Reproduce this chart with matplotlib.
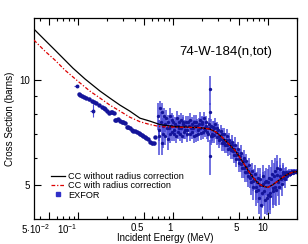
import numpy as np
import matplotlib
matplotlib.use("Agg")
from matplotlib import pyplot as plt
from matplotlib.ticker import FixedLocator, NullFormatter

plt.rcParams['font.family'] = ['Liberation Sans', 'DejaVu Sans']
plt.rcParams['mathtext.fontset'] = 'custom'
plt.rcParams['mathtext.rm'] = 'Liberation Sans'
plt.rcParams['mathtext.it'] = 'Liberation Sans:italic'

# CC without radius correction (black)
cc_e = [0.0344, 0.0449, 0.0573, 0.0730, 0.0886, 0.119, 0.171, 0.217, 0.277, 0.352,
        0.450, 0.573, 0.730, 1.05, 1.51, 1.92, 2.45, 2.84, 3.28, 3.79, 4.49, 5.20,
        6.16, 6.95, 7.85, 8.86, 10.0, 11.29, 12.7, 14.38, 16.2, 18.3, 20.2]
cc_s = [14.0, 13.02, 12.19, 11.41, 10.82, 10.07, 9.30, 8.88, 8.48, 8.15,
        7.78, 7.63, 7.46, 7.36, 7.33, 7.31, 7.24, 7.10, 6.87, 6.60, 6.30, 5.94,
        5.52, 5.27, 5.07, 4.97, 4.93, 5.02, 5.14, 5.27, 5.38, 5.45, 5.47]

# CC with radius correction (red)
ccr_e = [0.0344, 0.0449, 0.0573, 0.0730, 0.1025, 0.1337, 0.171, 0.217, 0.277, 0.352,
         0.450, 0.573, 0.730, 1.05, 1.51, 1.92, 2.45, 2.84, 3.28, 3.79, 4.49, 5.20,
         6.16, 6.95, 7.85, 8.86, 10.0, 11.29, 12.7, 14.38, 16.2, 18.3, 20.2]
ccr_s = [13.02, 12.11, 11.41, 10.68, 9.87, 9.30, 8.88, 8.48, 8.15, 7.83,
         7.60, 7.46, 7.36, 7.33, 7.32, 7.31, 7.24, 7.10, 6.87, 6.60, 6.30, 5.94,
         5.52, 5.27, 5.07, 4.97, 4.93, 5.02, 5.14, 5.27, 5.38, 5.45, 5.47]

# EXFOR, low energy set
lo_e = [0.1017, 0.1060, 0.1102, 0.1160, 0.1214, 0.1300, 0.1404, 0.1480, 0.1546, 0.1664,
        0.1790, 0.1860, 0.1924, 0.2010, 0.2105, 0.2225, 0.2300, 0.2375, 0.2452, 0.2540,
        0.2636, 0.2770, 0.2904, 0.3010, 0.3126, 0.3281, 0.3400, 0.3526, 0.3701, 0.3840,
        0.398, 0.417, 0.4355, 0.453, 0.472, 0.4900, 0.5075, 0.5270, 0.5455, 0.573,
        0.601, 0.6265, 0.647]
lo_s = [9.12, 9.06, 9.00, 8.94, 8.88, 8.80, 8.72, 8.64, 8.59, 8.48,
        8.38, 8.34, 8.26, 8.15, 8.04, 8.10, 8.08, 8.04, 7.68, 7.70,
        7.73, 7.66, 7.60, 7.57, 7.55, 7.35, 7.32, 7.29, 7.19, 7.16,
        7.14, 7.10, 7.05, 7.00, 6.96, 6.92, 6.87, 6.82, 6.78, 6.66,
        6.60, 6.60, 6.87]
lo_err = [0.06] * len(lo_e)

# EXFOR, isolated points
iso_e = [0.0976, 0.143]
iso_s = [9.61, 8.17]
iso_xerr = [[0.0074, 0.0], [0.0082, 0.0]]
iso_yerr = [0.0, 0.35]

# EXFOR, dense set 0.7 - 20 MeV
hi_e = [0.70, 0.72, 0.745, 0.77, 0.795, 0.82, 0.85, 0.88, 0.91, 0.94, 0.97,
        1.0, 1.03, 1.065, 1.10, 1.135, 1.17, 1.21, 1.25, 1.29, 1.33, 1.37, 1.42, 1.47,
        1.52, 1.57, 1.62, 1.67, 1.73, 1.79, 1.85, 1.91, 1.97, 2.04, 2.11, 2.18, 2.25, 2.33,
        2.40, 2.43, 2.45, 2.47, 2.49,
        2.52, 2.61, 2.70, 2.79, 2.89, 2.99, 3.09, 3.20, 3.31, 3.43, 3.55, 3.67, 3.80,
        3.93, 4.07, 4.21, 4.36, 4.51, 4.67, 4.83, 5.00, 5.17, 5.35, 5.54, 5.73, 5.93,
        6.14, 6.35, 6.57, 6.80, 7.04, 7.29, 7.54, 7.80, 8.07, 8.35, 8.64, 8.95, 9.26,
        9.58, 9.92, 10.27, 10.6, 11.0, 11.4, 11.8, 12.2, 12.6, 13.0, 13.5, 14.0, 14.5,
        15.0, 15.5, 16.0, 16.6, 17.2, 17.8, 18.4, 19.0, 19.6, 20.0]
hi_s = [7.9, 6.9, 7.6, 8.1, 7.0, 7.5, 7.8, 6.8, 7.3, 7.9, 7.1,
        7.6, 7.0, 7.4, 7.8, 7.1, 7.3, 7.7, 6.9, 7.5, 7.2, 7.6, 7.0, 7.4,
        7.7, 7.1, 7.3, 7.6, 6.95, 7.4, 7.2, 7.7, 7.05, 7.5, 7.8, 7.2, 7.4, 7.0,
        7.5, 8.1, 9.4, 6.05, 6.9,
        7.4, 6.9, 7.3, 7.5, 6.85, 7.2, 6.75, 7.15, 6.6, 7.0, 6.5, 6.9, 6.35,
        6.75, 6.3, 6.65, 6.1, 6.5, 5.95, 6.35, 5.8, 6.2, 5.6, 6.0, 5.45, 5.85,
        5.3, 5.7, 5.1, 5.5, 4.95, 5.4, 4.8, 5.25, 4.6, 5.2, 4.75, 5.3, 4.55,
        5.15, 4.7, 5.25, 4.65, 5.4, 4.8, 5.5, 4.85, 5.6, 4.95, 5.55, 5.05, 5.45,
        5.2, 5.45, 5.3, 5.45, 5.38, 5.48, 5.42, 5.5, 5.45, 5.48]
hi_err = [0.7, 0.8, 0.5, 0.5, 0.6, 0.4, 0.4, 0.5, 0.5, 0.4, 0.4,
          0.35, 0.3, 0.4, 0.35, 0.3, 0.4, 0.35, 0.3, 0.35, 0.4, 0.3, 0.35, 0.3,
          0.35, 0.3, 0.4, 0.35, 0.3, 0.35, 0.3, 0.4, 0.3, 0.35, 0.3, 0.35, 0.3, 0.35,
          0.3, 0.5, 0.9, 0.7, 0.4,
          0.35, 0.3, 0.35, 0.3, 0.35, 0.3, 0.35, 0.3, 0.35, 0.3, 0.3, 0.35, 0.3,
          0.3, 0.35, 0.3, 0.3, 0.35, 0.3, 0.3, 0.35, 0.3, 0.35, 0.3, 0.35, 0.3,
          0.35, 0.3, 0.4, 0.3, 0.4, 0.3, 0.45, 0.35, 0.45, 0.4, 0.45, 0.4, 0.4,
          0.45, 0.5, 0.45, 0.5, 0.5, 0.5, 0.5, 0.5, 0.5, 0.55, 0.45, 0.4, 0.35,
          0.3, 0.2, 0.15, 0.1, 0.1, 0.1, 0.08, 0.08, 0.08, 0.08]

# EXFOR, second dense set (fills between the first)
hi2_e = [0.71, 0.735, 0.76, 0.785, 0.81, 0.835, 0.865, 0.895, 0.925, 0.955, 0.985,
         1.015, 1.05, 1.08, 1.12, 1.15, 1.19, 1.23, 1.27, 1.31, 1.35, 1.40, 1.45, 1.50,
         1.55, 1.60, 1.65, 1.70, 1.76, 1.82, 1.88, 1.94, 2.00, 2.08, 2.15, 2.22, 2.29, 2.37,
         2.56, 2.65, 2.74, 2.84, 2.94, 3.04, 3.15, 3.25, 3.37, 3.49, 3.61, 3.73, 3.86,
         4.00, 4.14, 4.28, 4.43, 4.59, 4.75, 4.91, 5.08, 5.26, 5.44, 5.63, 5.83, 6.03,
         6.24, 6.46, 6.68, 6.92, 7.16, 7.41, 7.67, 7.93, 8.21, 8.50, 8.80, 9.10, 9.42,
         9.75, 10.1, 10.45, 10.8, 11.2, 11.6, 12.0, 12.4, 12.8, 13.25, 13.75, 14.25, 14.75,
         15.25, 15.75, 16.3, 16.9, 17.5, 18.1, 18.7, 19.3, 19.8]
hi2_s = [7.2, 8.3, 6.6, 7.4, 7.9, 6.9, 7.3, 7.6, 7.0, 7.4, 7.7,
         7.2, 7.5, 6.9, 7.4, 7.6, 7.0, 7.3, 7.6, 7.1, 7.4, 7.2, 7.6, 7.0,
         7.3, 7.5, 6.9, 7.4, 7.6, 7.0, 7.5, 7.3, 7.6, 7.1, 7.3, 7.6, 7.1, 7.3,
         7.0, 7.35, 6.95, 7.1, 7.3, 6.9, 6.8, 7.0, 6.75, 6.6, 6.75, 6.5, 6.6,
         6.4, 6.5, 6.25, 6.35, 6.1, 6.2, 5.95, 6.05, 5.75, 5.85, 5.6, 5.65, 5.45,
         5.5, 5.25, 5.35, 5.15, 5.2, 4.95, 5.1, 4.85, 5.0, 4.4, 5.05, 4.8, 5.1,
         4.6, 5.1, 4.75, 5.2, 4.9, 5.3, 4.95, 5.35, 5.1, 5.3, 5.2, 5.4, 5.25,
         5.4, 5.35, 5.42, 5.4, 5.45, 5.44, 5.47, 5.46, 5.47]
hi2_err = [0.5, 0.4, 0.5, 0.4, 0.4, 0.4, 0.35, 0.35, 0.4, 0.35, 0.35,
           0.3, 0.35, 0.3, 0.3, 0.35, 0.3, 0.3, 0.35, 0.3, 0.3, 0.35, 0.3, 0.3,
           0.3, 0.35, 0.3, 0.3, 0.35, 0.3, 0.3, 0.35, 0.3, 0.3, 0.35, 0.3, 0.3, 0.3,
           0.3, 0.3, 0.35, 0.3, 0.3, 0.35, 0.3, 0.3, 0.3, 0.35, 0.3, 0.3, 0.3,
           0.3, 0.3, 0.3, 0.3, 0.3, 0.3, 0.3, 0.3, 0.3, 0.3, 0.35, 0.3, 0.35,
           0.3, 0.35, 0.3, 0.35, 0.35, 0.4, 0.35, 0.4, 0.4, 0.5, 0.4, 0.45, 0.4,
           0.5, 0.45, 0.5, 0.45, 0.5, 0.5, 0.55, 0.5, 0.45, 0.4, 0.35, 0.3, 0.25,
           0.2, 0.15, 0.1, 0.1, 0.1, 0.08, 0.08, 0.08, 0.08]

xticks = [0.05, 0.1, 0.5, 1, 5, 10]
xticklabels = [r'$5{\cdot}10^{-2}$', r'$10^{-1}$', '0.5', '1', '5', '10']

fig = plt.figure(figsize=(3.08, 2.44), dpi=100)
ax = fig.add_axes([0.110, 0.102, 0.854, 0.824])

exf_c = '#14149a'
bar_c = '#4a4ad8'
for xs, ys, es in [(hi_e, hi_s, hi_err), (hi2_e, hi2_s, hi2_err)]:
    ax.errorbar(xs, ys, yerr=es, fmt='o', ms=1.4, color=exf_c, ecolor=bar_c,
                elinewidth=1.1, capsize=0, zorder=2)
ax.errorbar(lo_e, lo_s, yerr=lo_err, fmt='o', ms=2.2, color=exf_c, ecolor=bar_c,
            elinewidth=1.0, capsize=0, zorder=2)
ax.errorbar(iso_e, iso_s, xerr=np.array(iso_xerr).T, yerr=iso_yerr, fmt='o', ms=1.8,
            color=exf_c, ecolor=bar_c, elinewidth=0.8, capsize=0, zorder=2)

ax.plot(cc_e, cc_s, color='black', lw=0.9, zorder=3, label='CC without radius correction')
ax.plot(ccr_e, ccr_s, color='#dd0000', lw=0.9, ls=(0, (3, 1.5, 1, 1.5)), zorder=4,
        label='CC with radius correction')
ax.plot([], [], 's', ms=2.5, color='#3030c8', label='EXFOR')

ax.set_xscale('log')
ax.set_yscale('log')
ax.set_xlim(0.0344, 20.2)
ax.set_ylim(4.0, 15.05)

ax.xaxis.set_major_locator(FixedLocator(xticks))
ax.set_xticklabels(xticklabels)
for lab in ax.get_xticklabels():
    lab.set_ha('right')
ax.xaxis.set_minor_locator(FixedLocator([0.04, 0.06, 0.07, 0.08, 0.09, 0.2, 0.3, 0.4,
                                         0.6, 0.7, 0.8, 0.9, 2, 3, 4, 6, 7, 8, 9, 20]))
ax.xaxis.set_minor_formatter(NullFormatter())
ax.yaxis.set_major_locator(FixedLocator([5, 10]))
ax.set_yticklabels(['5', '10'])
ax.yaxis.set_minor_locator(FixedLocator([6, 7, 8, 9]))
ax.yaxis.set_minor_formatter(NullFormatter())

ax.tick_params(which='both', direction='in', top=True, right=True, labelsize=7,
               width=0.8, pad=2.5)
ax.tick_params(which='major', length=5)
ax.tick_params(which='minor', length=2.5)
for sp in ax.spines.values():
    sp.set_linewidth(0.9)

ax.set_xlabel('Incident Energy (MeV)', fontsize=7, va='center')
ax.xaxis.set_label_coords(0.5, -0.092)
ax.set_ylabel('Cross Section (barns)', fontsize=7, labelpad=3)
ax.text(0.73, 0.83, '74-W-184(n,tot)', transform=ax.transAxes, fontsize=9.5,
        ha='center', va='center')

ax.legend(loc='lower left', bbox_to_anchor=(0.04, 0.065), frameon=False, fontsize=6.6,
          handlelength=1.5, handletextpad=0.4, labelspacing=0.05, borderpad=0.2)

fig.savefig('out.png', dpi=100)
